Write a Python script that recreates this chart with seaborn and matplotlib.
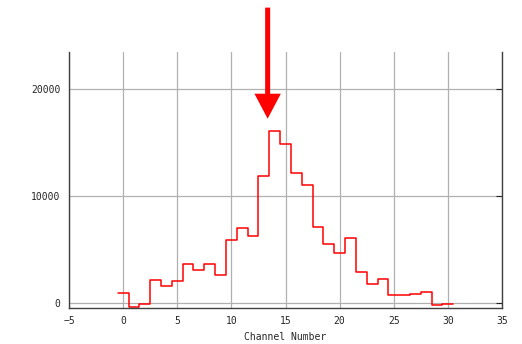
import matplotlib
matplotlib.use("Agg")
import matplotlib.pyplot as plt
import numpy as np
import seaborn as sns

# counts per channel
channels = np.arange(0, 31)
counts = [
    900, -400, -100, 2180, 1620, 2090, 3620, 3090, 3620, 2590,
    5930, 7030, 6310, 11930, 16090, 14900, 12150, 11040, 7120, 5490,
    4680, 6120, 2870, 1780, 2210, 780, 780, 870, 990, -220,
    -70,
]
x_ticks = [-5, 0, 5, 10, 15, 20, 25, 30, 35]
y_ticks = [0, 10000, 20000]
peak_channel = 13.35
arrow_tip, arrow_tail = 17250, 27650

sns.set_style("white")
plt.rcParams["font.family"] = ["DejaVu Sans Mono"]

fig = plt.figure(figsize=(5.22, 3.44), dpi=100)
ax = fig.add_axes([0.1322, 0.1047, 0.8295, 0.7443])

edges = np.append(channels - 0.5, channels[-1] + 0.5)
heights = np.append(counts, counts[-1])
sns.lineplot(x=edges, y=heights, drawstyle="steps-post", color="#ff0000",
             lw=1.1, ax=ax, sort=False)

ax.set_xlim(-5, 35)
ax.set_ylim(-470, 23500)
ax.set_xticks(x_ticks)
ax.set_yticks(y_ticks)
ax.grid(True, color="#b0b0b0", lw=0.9)
ax.spines["top"].set_visible(False)
for s in ["left", "bottom", "right"]:
    ax.spines[s].set_color("#404040")
    ax.spines[s].set_linewidth(1.0)
ax.tick_params(direction="in", length=4, width=0.8, color="#222222",
               labelsize=7, pad=6)
ax.tick_params(axis="y", right=True)
ax.set_xlabel("Channel Number", fontsize=7, labelpad=4)
ax.set_ylabel("")

ax.annotate("", xy=(peak_channel, arrow_tip), xytext=(peak_channel, arrow_tail),
            annotation_clip=False,
            arrowprops=dict(width=3.6, headwidth=19, headlength=18, shrink=0,
                            facecolor="#ff0000", edgecolor="none"))

fig.savefig("out.png", dpi=100)
